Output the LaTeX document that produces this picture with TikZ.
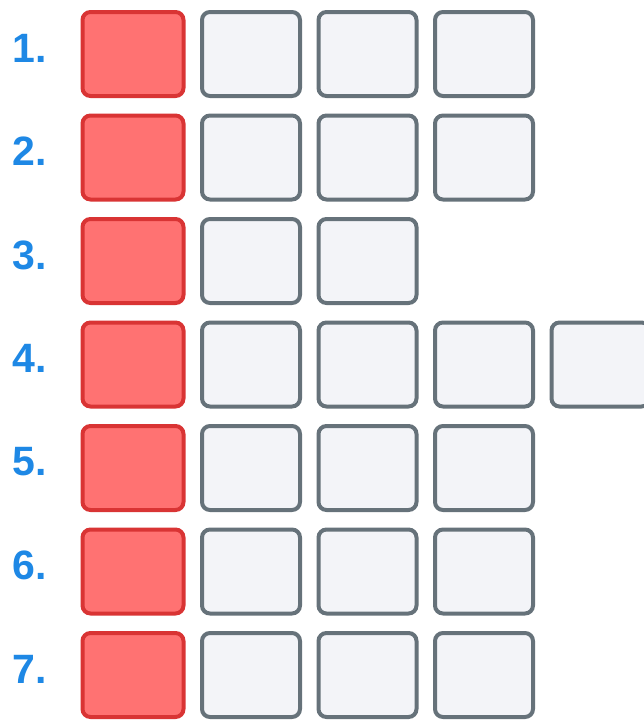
\documentclass[tikz,border=0pt]{standalone}
\usepackage{fontspec}
\setmainfont{Liberation Sans}
\usepackage{xcolor}
\usetikzlibrary{positioning}
\definecolor{headfill}{HTML}{FF7272}
\definecolor{headdraw}{HTML}{D93434}
\definecolor{cellfill}{HTML}{F3F4F8}
\definecolor{celldraw}{HTML}{66727A}
\definecolor{numblue}{HTML}{1E88E5}
\tikzset{
  cell/.style={rectangle, rounded corners=8pt, draw=#1, line width=4pt, inner sep=0pt,
               minimum height=84pt},
  head/.style={cell=headdraw, fill=headfill, minimum width=101pt},
  tail/.style={cell=celldraw, fill=cellfill, minimum width=98pt},
  rownum/.style={anchor=east, inner sep=0pt, text=numblue, font=\fontsize{41}{41}\selectfont\bfseries},
}
\begin{document}
\begin{tikzpicture}[x=1pt, y=-1pt]
\useasboundingbox (0,0) rectangle (644,720);
\foreach \n/\k in {1/3, 2/3, 3/2, 4/4, 5/3, 6/3, 7/3} {
  \pgfmathsetmacro{\ry}{54+103.5*(\n-1)}
  \node[rownum] (num\n) at (47,\ry-6) {\n.};
  \node[head] (head\n) at (133,\ry) {};
  \foreach \c in {1,...,\k}
    \node[tail] (cell\n-\c) at ({251+116.5*(\c-1)},\ry) {};
}
\end{tikzpicture}
\end{document}
